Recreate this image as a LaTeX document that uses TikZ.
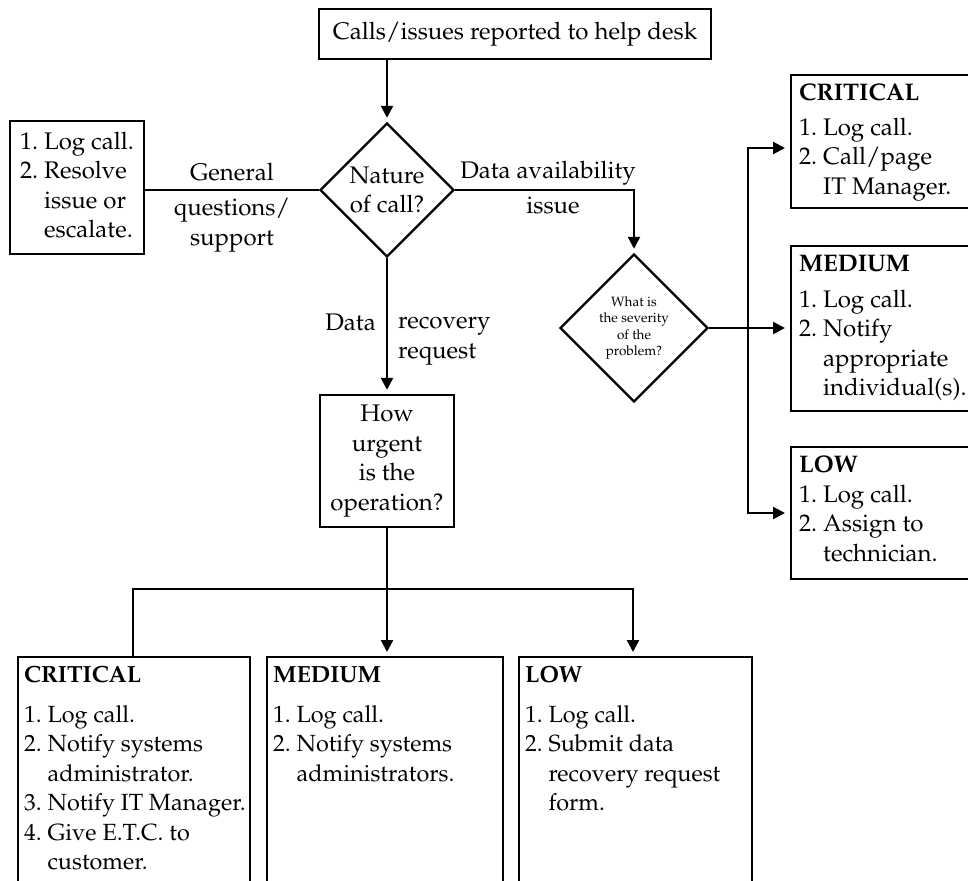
\documentclass[tikz,border=0pt]{standalone}
\usepackage[T1]{fontenc}
\usepackage{mathpazo}
\usetikzlibrary{arrows.meta,positioning,shapes.geometric,calc}
\tikzset{
  box/.style={draw,line width=2.4pt,align=center,inner sep=0pt},
  panel/.style={draw,line width=2.4pt,inner sep=0pt,anchor=north west},
  decide/.style={draw,diamond,aspect=1,line width=2.4pt,inner sep=0pt,align=center},
  lbl/.style={inner sep=0pt,anchor=base},
  flow/.style={line width=2.4pt},
  >={Triangle[length=12pt,width=12pt]}
}
% text of a box that is longer than its text: pinned to the top
\newcommand{\panelbody}[5][8pt]{\parbox[c][#3][t]{#2}{\vspace*{#4}\hspace*{#1}#5}}

\begin{document}
\begin{tikzpicture}[x=1pt,y=1pt,
    every node/.append style={font=\fontsize{24}{29.5}\selectfont}]
  \useasboundingbox (0,0) rectangle (968,-880);

  % main question
  \node[box,minimum width=392,minimum height=50] (calls) at (515,-34) {Calls/issues reported to help desk};
  \node[decide,minimum size=134] (nature) at (387,-190) {Nature\\of call?};
  \node[box,minimum width=134,minimum height=133] (lefttask) at (77,-187.5)
    {\begin{tabular}{@{}l@{\ }l@{}}1.&Log call.\\2.&Resolve\\&issue or\\&escalate.\end{tabular}};
  \node[decide,minimum size=148,font=\fontsize{13.5}{16.3}\selectfont] (severity) at (634,-328)
    {What is\\the severity\\of the\\problem?};
  \node[box,minimum width=134,minimum height=132] (urgent) at (387,-461) {How\\urgent\\is the\\operation?};

  % severity outcomes
  \node[panel] (critr) at (790,-74) {\panelbody{190pt}{133pt}{5pt}{\begin{tabular}[t]{@{}l@{\ }l@{}}
    \multicolumn{2}{@{}l}{\textbf{CRITICAL}}\\[5pt] 1.&Log call.\\2.&Call/page\\&IT Manager.\end{tabular}}};
  \node[panel] (medr) at (790,-245) {\panelbody{190pt}{165pt}{5pt}{\begin{tabular}[t]{@{}l@{\ }l@{}}
    \multicolumn{2}{@{}l}{\textbf{MEDIUM}}\\[6pt] 1.&Log call.\\2.&Notify\\&appropriate\\&individual(s).\end{tabular}}};
  \node[panel] (lowr) at (790,-446) {\panelbody{190pt}{132pt}{5pt}{\begin{tabular}[t]{@{}l@{\ }l@{}}
    \multicolumn{2}{@{}l}{\textbf{LOW}}\\ 1.&Log call.\\2.&Assign to\\&technician.\end{tabular}}};

  % urgency outcomes
  \begin{scope}[every node/.append style={font=\fontsize{23.4}{29.5}\selectfont}]
  \node[panel] (critb) at (17,-656) {\panelbody[6pt]{232pt}{250pt}{5pt}{\begin{tabular}[t]{@{}l@{\ }l@{}}
    \multicolumn{2}{@{}l}{\textbf{CRITICAL}}\\[10pt] 1.&Log call.\\2.&Notify systems\\&administrator.\\
    3.&Notify IT Manager.\\4.&Give E.T.C. to\\&customer.\end{tabular}}};
  \node[panel] (medb) at (266,-656) {\panelbody[6pt]{236pt}{250pt}{5pt}{\begin{tabular}[t]{@{}l@{\ }l@{}}
    \multicolumn{2}{@{}l}{\textbf{MEDIUM}}\\[10pt] 1.&Log call.\\2.&Notify systems\\&administrators.\end{tabular}}};
  \node[panel] (lowb) at (518,-656) {\panelbody[6pt]{233pt}{250pt}{5pt}{\begin{tabular}[t]{@{}l@{\ }l@{}}
    \multicolumn{2}{@{}l}{\textbf{LOW}}\\[10pt] 1.&Log call.\\2.&Submit data\\&recovery request\\&form.\end{tabular}}};
  \end{scope}

  % branch labels (base of a two-line label is its last line)
  \node[lbl] (general) at (232,-180) {General};
  \node[lbl,align=center] (questions) at (232,-245) {questions/\\support};
  \node[lbl] (avail) at (548,-178) {Data availability};
  \node[lbl] (issue) at (553,-213) {issue};
  \node[lbl,anchor=base east] (data) at (376,-330) {Data};
  \node[lbl,anchor=base west,align=left] (recovery) at (398,-358) {recovery\\request};

  % connectors
  \coordinate (forktop) at (748,-148);
  \coordinate (forkbot) at (748,-513);
  \coordinate (split) at (387,-589);
  \coordinate (splitl) at (133,-589);
  \coordinate (splitr) at (633,-589);
  \draw[flow,->,shorten >=4pt] (calls.south -| nature) -- (nature.north);
  \draw[flow] (nature.west) -- (lefttask.east |- nature.west);
  \draw[flow,->,shorten >=4pt] (nature.east) -| (severity.north);
  \draw[flow,->,shorten >=4pt] (nature.south) -- (urgent.north);
  \draw[flow,->,shorten >=5pt] (severity.east) -- (medr.west |- severity.east);
  \draw[flow,<->,shorten <=5pt,shorten >=5pt] (forktop -| critr.west) -- (forktop) -- (forkbot) -- (forkbot -| lowr.west);
  \draw[flow,->,shorten >=4pt] (urgent.south) -- (split) -- (medb.north -| split);
  \draw[flow,->,shorten >=4pt] (critb.north -| splitl) -- (splitl) -- (splitr) -- (lowb.north -| splitr);
\end{tikzpicture}
\end{document}
